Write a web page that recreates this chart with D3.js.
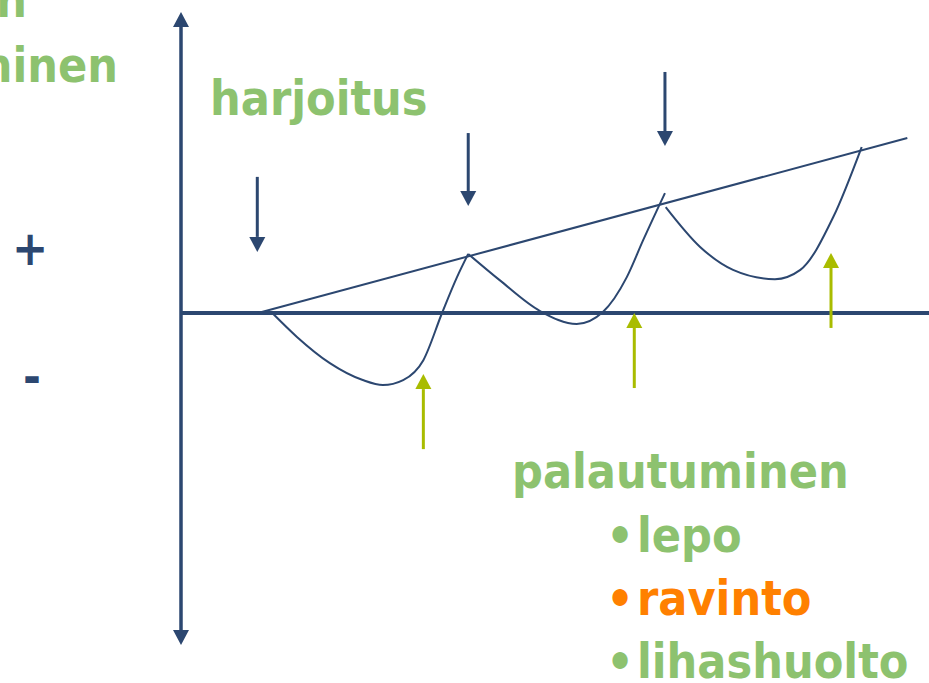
<!DOCTYPE html>
<html>
<head>
<meta charset="utf-8">
<script src="https://cdn.jsdelivr.net/npm/d3@7"></script>
<style>
  body { margin: 0; background: #fff; }
  svg { display: block; }
  text { font-family: "DejaVu Sans Condensed", "DejaVu Sans", Verdana, sans-serif; font-size: 48px; font-weight: bold; }
</style>
</head>
<body>
<script>
// curve of performance level over time (x: time 0..100, y: level -100..100)
var segment1 = [[12.2, 0], [15.5, -7.2], [19.9, -15.1], [24.3, -20.2], [27.0, -21.7], [29.7, -20.2], [32.4, -14.2], [34.9, 0], [36.9, 10.8], [38.4, 17.8]];
var segment2 = [[38.4, 17.8], [42.6, 9.9], [48.0, 0.6], [52.9, -3.3], [56.4, 0.3], [59.6, 10.8], [61.8, 22.0], [64.7, 36.1]];
var segment3 = [[64.8, 31.9], [69.4, 19.9], [73.8, 13.0], [79.4, 10.2], [82.8, 13.0], [87.2, 28.9], [91.0, 50.0]];
var trendLine = [[10.3, 0], [97.1, 52.7]];

// training loads (down arrows): x, top, tip
var trainingArrows = [[10.2, 41.0, 18.4], [38.4, 54.2, 32.2], [64.7, 72.6, 50.3]];
// recovery (up arrows): x, bottom, tip
var recoveryArrows = [[32.4, -41.0, -18.4], [60.6, -22.6, 0], [86.9, -4.5, 18.1]];

var yLabels = ["+", "-"];
var recoveryItems = ["lepo", "ravinto", "lihashuolto"];

var W = 929, H = 683;
var navy = "#2c4770", green = "#8dc26f", orange = "#ff8000", olive = "#a9bc00";

var x = d3.scaleLinear().domain([0, 100]).range([181, 929]);
var y = d3.scaleLinear().domain([-100, 100]).range([645, -19]);

var svg = d3.select("body").append("svg")
    .attr("width", W)
    .attr("height", H);

// arrow helper: line from (x, y0) to tip (x, y1) with a triangle head
function arrow(g, xv, y0, y1, color, width) {
    var px = x(xv), p0 = y(y0), p1 = y(y1);
    var dir = p1 > p0 ? 1 : -1;
    var headLen = 15, headW = 8;
    g.append("line")
        .attr("x1", px).attr("y1", p0)
        .attr("x2", px).attr("y2", p1 - dir * headLen)
        .attr("stroke", color)
        .attr("stroke-width", width);
    g.append("path")
        .attr("d", "M" + (px - headW) + "," + (p1 - dir * headLen) +
                   "L" + (px + headW) + "," + (p1 - dir * headLen) +
                   "L" + px + "," + p1 + "Z")
        .attr("fill", color);
}

var axes = svg.append("g");
// vertical axis with heads at both ends
axes.append("line")
    .attr("x1", x(0)).attr("y1", y(90.7) + 15)
    .attr("x2", x(0)).attr("y2", y(-100) - 15)
    .attr("stroke", navy).attr("stroke-width", 3);
arrow(axes, 0, 0, 90.7, navy, 3);
arrow(axes, 0, 0, -100, navy, 3);
// horizontal axis
axes.append("line")
    .attr("x1", x(0)).attr("y1", y(0))
    .attr("x2", x(100)).attr("y2", y(0))
    .attr("stroke", navy).attr("stroke-width", 4);

// trend line
svg.append("line")
    .attr("x1", x(trendLine[0][0])).attr("y1", y(trendLine[0][1]))
    .attr("x2", x(trendLine[1][0])).attr("y2", y(trendLine[1][1]))
    .attr("stroke", navy).attr("stroke-width", 2);

// performance curve
var line = d3.line()
    .x(function(d) { return x(d[0]); })
    .y(function(d) { return y(d[1]); })
    .curve(d3.curveMonotoneX);

[segment1, segment2, segment3].forEach(function(seg) {
    svg.append("path")
        .attr("d", line(seg))
        .attr("fill", "none")
        .attr("stroke", navy)
        .attr("stroke-width", 2);
});

var arrows = svg.append("g");
trainingArrows.forEach(function(a) { arrow(arrows, a[0], a[1], a[2], navy, 3); });
recoveryArrows.forEach(function(a) { arrow(arrows, a[0], a[1], a[2], olive, 3); });

// texts
svg.append("text").attr("x", 27).attr("y", 17)
    .attr("text-anchor", "end").attr("fill", green).text("Kunnon");
svg.append("text").attr("x", 118).attr("y", 82)
    .attr("text-anchor", "end").attr("fill", green).text("kehittyminen");

svg.append("text").attr("x", 30).attr("y", 265)
    .attr("text-anchor", "middle").attr("fill", navy).text(yLabels[0]);
svg.append("text").attr("x", 32).attr("y", 393)
    .attr("text-anchor", "middle").attr("fill", navy).text(yLabels[1]);

svg.append("text").attr("x", 210).attr("y", 115)
    .attr("fill", green).text("harjoitus");

svg.append("text").attr("x", 512).attr("y", 488)
    .attr("fill", green).text("palautuminen");

recoveryItems.forEach(function(item, i) {
    var color = i == 1 ? orange : green;
    var by = 552 + i * 63;
    svg.append("text").attr("x", 620).attr("y", by)
        .attr("text-anchor", "middle")
        .attr("fill", color).text("\u2022");
    svg.append("text").attr("x", 637).attr("y", by)
        .attr("fill", color).text(item);
});
</script>
</body>
</html>
